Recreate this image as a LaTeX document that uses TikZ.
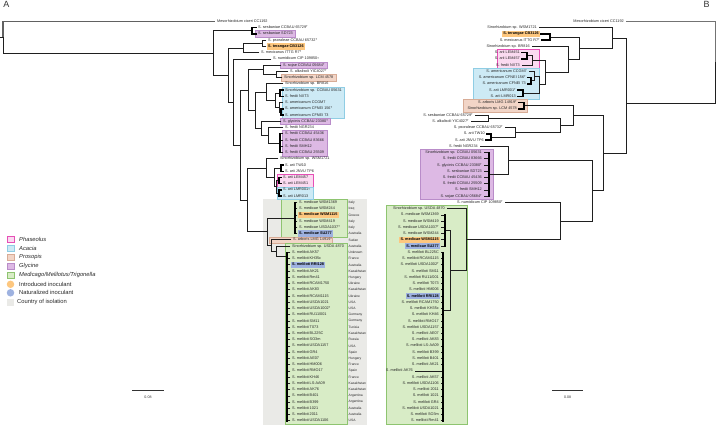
\documentclass[tikz,border=0pt]{standalone}
\usepackage{fontspec}
\setmainfont{Liberation Sans}
\usetikzlibrary{backgrounds,fit}
\definecolor{glyF}{HTML}{DDB9E4}\definecolor{glyD}{HTML}{B98CC9}
\definecolor{acaF}{HTML}{CDEAF5}\definecolor{acaD}{HTML}{8FCDE4}
\definecolor{proF}{HTML}{F2D5C7}\definecolor{proD}{HTML}{D8AC96}
\definecolor{phaF}{HTML}{FADAF0}\definecolor{phaD}{HTML}{E64FB6}
\definecolor{medF}{HTML}{D8ECC6}\definecolor{medD}{HTML}{8EC470}
\definecolor{intF}{HTML}{FDC77F}
\definecolor{natF}{HTML}{9EB2E0}
\definecolor{ctyF}{HTML}{EAEAE7}
\newcommand\lfont{\fontsize{3.8}{4.2}\selectfont}
\newcommand\cfont{\fontsize{3.3}{4}\selectfont}
\newcommand\gfont{\fontsize{5.8}{6.5}\selectfont}
\newcommand\Ty{\raisebox{0.9pt}{\fontsize{2.6}{3}\selectfont T}}
\newcommand\LA[5][]{\coordinate (#2) at (#3,{21.5+6.24*#4});\node[lA,#1] (#2-t) at ([xshift=2pt]#2) {#5};}
\newcommand\LB[5][]{\coordinate (#2) at (#3,{21.5+6.24*#4});\node[lB,#1] (#2-t) at ([xshift=-2pt]#2) {#5};}
\newcommand\CA[2]{\node[cty] (c#1) at (348.5,{21.5+6.24*#1}) {#2};}
\newcommand\RowBox[5]{\path[#1] (#2,{21.5+6.24*#4-3.1}) rectangle (#3,{21.5+6.24*#5+3.1});}
\begin{document}
\begin{tikzpicture}[x=1pt,y=-1pt,
 br/.style={line width=0.8pt, draw=black!88, line cap=rect},
 cmb/.style={line width=1.5pt, draw=black, line cap=rect},
 ogA/.style={line width=1.5pt, draw=black!62},
 ogB/.style={line width=0.8pt, draw=black!55},
 lA/.style={anchor=west, inner sep=0pt, font=\lfont, text=black!85, text height=2.8pt, text depth=0.8pt},
 lB/.style={anchor=east, inner sep=0pt, font=\lfont, text=black!85, text height=2.8pt, text depth=0.8pt},
 hb/.style={font=\lfont\bfseries, text=black},
 cty/.style={anchor=west, inner sep=0pt, font=\cfont, text=black!85},
 bfit/.style={inner xsep=2.5pt, inner ysep=1.3pt},
 glyB/.style={fill=glyF, draw=glyD, line width=0.5pt, bfit},
 acaB/.style={fill=acaF, draw=acaD, line width=0.5pt, bfit},
 proB/.style={fill=proF, draw=proD, line width=0.5pt, bfit},
 phaB/.style={fill=phaF, draw=phaD, line width=0.6pt, bfit},
 medB/.style={fill=medF, draw=medD, line width=0.5pt},
 intH/.style={fill=intF, inner xsep=1.2pt, inner ysep=1.3pt},
 natH/.style={fill=natF, inner xsep=1.2pt, inner ysep=1.3pt},
 sq/.style={minimum width=7pt, minimum height=6.5pt, inner sep=0pt, line width=0.6pt},
 dot/.style={circle, minimum size=7.5pt, inner sep=0pt},
 lgt/.style={anchor=west, inner sep=0pt, font=\gfont, text=black!85},
 sb/.style={line width=1.2pt, draw=black!80},
 sbt/.style={font=\fontsize{3.6}{4}\selectfont, text=black!80, inner sep=0pt}]
\useasboundingbox (0,0) rectangle (716,425);

% ================= PANEL A : leaves =================
\LA{aMeso}{215}{0}{Mesorhizobium ciceri CC1192}
\LA{a1}{256}{1}{S. sesbaniae CCBAU 65729\Ty}
\LA{a2}{256}{2}{S. sesbaniae SD723}
\LA{a3}{266}{3}{S. psoraleae CCBAU 65732\Ty}
\LA[hb]{a4}{266}{4}{S. terangae CB3126}
\LA{a5}{259}{5}{S. mexicanus ITTG R7\Ty}
\LA{a6}{271}{6}{S. numidicum CIP 109850\Ty}
\LA{a7}{281}{7}{S. sojae CCBAU 05684\Ty}
\LA{a8}{288}{8}{S. alkalisoli YIC4027\Ty}
\LA{a9}{282}{9}{Sinorhizobium sp. LCM 4578}
\LA{a10}{283}{10}{Sinorhizobium sp. BR816}
\LA{a11}{283}{11}{Sinorhizobium sp. CCBAU 05631}
\LA{a12}{283}{12}{S. fredii NXT3}
\LA{a13}{283}{13}{S. americanum CCGM7}
\LA{a14}{283}{14}{S. americanum CFNEI 156\Ty}
\LA{a15}{283}{15}{S. americanum CFNEI 73}
\LA{a16}{281}{16}{S. glycinis CCBAU 23380\Ty}
\LA{a17}{283}{17}{S. fredii NGR234}
\LA{a18}{283}{18}{S. fredii CCBAU 45436}
\LA{a19}{283}{19}{S. fredii CCBAU 83666}
\LA{a20}{283}{20}{S. fredii SMH12}
\LA{a21}{283}{21}{S. fredii CCBAU 25509}
\LA{a22}{278}{22}{Sinorhizobium sp. WSM1721}
\LA{a23}{283}{23}{S. arii TW10}
\LA{a24}{283}{24}{S. arii JNVU TP6}
\LA{a25}{281}{25}{S. arii LEM457}
\LA{a26}{281}{26}{S. arii LEM451}
\LA{a27}{281}{27}{S. arii LMR001\Ty}
\LA{a28}{281}{28}{S. arii LMR013}
\LA{a29}{297}{29}{S. medicae WSM1369}
\LA{a30}{297}{30}{S. medicae WSM244}
\LA[hb]{a31}{297}{31}{S. medicae WSM1115}
\LA{a32}{297}{32}{S. medicae WSM419}
\LA{a33}{297}{33}{S. medicae USDA1037\Ty}
\LA[hb]{a34}{297}{34}{S. medicae SU277}
\LA{a35}{291}{35}{S. arboris LMG 14919\Ty}
\LA{a36}{290}{36}{Sinorhizobium sp. USDA 4870}
\LA{a37}{290}{37}{S. meliloti AK57}
\LA{a38}{290}{38}{S. meliloti KH35c}
\LA[hb]{a39}{290}{39}{S. meliloti RRI128}
\LA{a40}{290}{40}{S. meliloti AK21}
\LA{a41}{290}{41}{S. meliloti Rm41}
\LA{a42}{290}{42}{S. meliloti RCAM1750}
\LA{a43}{290}{43}{S. meliloti AK83}
\LA{a44}{290}{44}{S. meliloti RCAM1115}
\LA{a45}{290}{45}{S. meliloti USDA1021}
\LA{a46}{290}{46}{S. meliloti USDA1002\Ty}
\LA{a47}{290}{47}{S. meliloti RU11/001}
\LA{a48}{290}{48}{S. meliloti SM11}
\LA{a49}{290}{49}{S. meliloti T073}
\LA{a50}{290}{50}{S. meliloti BL225C}
\LA{a51}{290}{51}{S. meliloti SO3m}
\LA{a52}{290}{52}{S. meliloti USDA1157}
\LA{a53}{290}{53}{S. meliloti GR4}
\LA{a54}{290}{54}{S. meliloti AE07}
\LA{a55}{290}{55}{S. meliloti HM006}
\LA{a56}{290}{56}{S. meliloti RMO17}
\LA{a57}{290}{57}{S. meliloti KH46}
\LA{a58}{290}{58}{S. meliloti LS-AA09}
\LA{a59}{290}{59}{S. meliloti AK76}
\LA{a60}{290}{60}{S. meliloti B401}
\LA{a61}{290}{61}{S. meliloti B399}
\LA{a62}{290}{62}{S. meliloti 1021}
\LA{a63}{290}{63}{S. meliloti 2011}
\LA{a64}{290}{64}{S. meliloti USDA1106}
% countries
\CA{29}{Italy}\CA{30}{Iraq}\CA{31}{Greece}\CA{32}{Italy}\CA{33}{Italy}\CA{34}{Australia}
\CA{35}{Sudan}\CA{36}{Australia}\CA{37}{Unknown}\CA{38}{France}\CA{39}{Australia}
\CA{40}{Kazakhstan}\CA{41}{Hungary}\CA{42}{Ukraine}\CA{43}{Kazakhstan}\CA{44}{Ukraine}
\CA{45}{USA}\CA{46}{USA}\CA{47}{Germany}\CA{48}{Germany}\CA{49}{Tunisia}
\CA{50}{Kazakhstan}\CA{51}{Russia}\CA{52}{USA}\CA{53}{Spain}\CA{54}{Hungary}
\CA{55}{France}\CA{56}{Spain}\CA{57}{France}\CA{58}{Kazakhstan}\CA{59}{Kazakhstan}
\CA{60}{Argentina}\CA{61}{Argentina}\CA{62}{Australia}\CA{63}{Australia}\CA{64}{USA}

% ================= PANEL B : leaves =================
\LB{b0}{626}{0}{Mesorhizobium ciceri CC1192}
\LB{b1}{539}{1}{Sinorhizobium sp. WSM1721}
\LB[hb]{b2}{541}{2}{S. terangae CB3126}
\LB{b3}{542}{3}{S. mexicanus ITTG R7\Ty}
\LB{b4}{532}{4}{Sinorhizobium sp. BR816}
\LB{b5}{522}{5}{S. arii LEM451}
\LB{b6}{522}{6}{S. arii LEM457}
\LB{b7}{522}{7}{S. fredii NXT3}
\LB{b8}{529}{8}{S. americanum CCGM7}
\LB{b9}{528}{9}{S. americanum CFNEI 156\Ty}
\LB{b10}{528}{10}{S. americanum CFNEI 73}
\LB{b11}{518}{11}{S. arii LMR001\Ty}
\LB{b12}{518}{12}{S. arii LMR013}
\LB{b13}{519}{13}{S. arboris LMG 14919\Ty}
\LB{b14}{519}{14}{Sinorhizobium sp. LCM 4578}
\LB{b15}{475}{15}{S. sesbaniae CCBAU 65729\Ty}
\LB{b16}{471}{16}{S. alkalisoli YIC4027\Ty}
\LB{b17}{505}{17}{S. psoraleae CCBAU 65732\Ty}
\LB{b18}{487}{18}{S. arii TW10}
\LB{b19}{486}{19}{S. arii JNVU TP6}
\LB{b20}{480}{20}{S. fredii NGR234}
\LB{b21}{484}{21}{Sinorhizobium sp. CCBAU 05631}
\LB{b22}{484}{22}{S. fredii CCBAU 83666}
\LB{b23}{484}{23}{S. glycinis CCBAU 23380\Ty}
\LB{b24}{484}{24}{S. sesbaniae SD723}
\LB{b25}{484}{25}{S. fredii CCBAU 45436}
\LB{b26}{484}{26}{S. fredii CCBAU 25509}
\LB{b27}{484}{27}{S. fredii SMH12}
\LB{b28}{484}{28}{S. sojae CCBAU 05684\Ty}
\LB{b29}{505}{29}{S. numidicum CIP 109850\Ty}
\LB{b30}{447}{30}{Sinorhizobium sp. USDA 4870}
\LB{b31}{441}{31}{S. medicae WSM1369}
\LB{b32}{441}{32}{S. medicae WSM419}
\LB{b33}{441}{33}{S. medicae USDA1037\Ty}
\LB{b34}{441}{34}{S. medicae WSM244}
\LB[hb]{b35}{441}{35}{S. medicae WSM1115}
\LB[hb]{b36}{441}{36}{S. medicae SU277}
\LB{b37}{441}{37}{S. meliloti BL225C}
\LB{b38}{441}{38}{S. meliloti RCAM1115}
\LB{b39}{441}{39}{S. meliloti USDA1002\Ty}
\LB{b40}{441}{40}{S. meliloti SM11}
\LB{b41}{441}{41}{S. meliloti RU11/001}
\LB{b42}{441}{42}{S. meliloti T073}
\LB{b43}{441}{43}{S. meliloti HM006}
\LB[hb]{b44}{441}{44}{S. meliloti RRI128}
\LB{b45}{441}{45}{S. meliloti RCAM1750}
\LB{b46}{441}{46}{S. meliloti KH35c}
\LB{b47}{441}{47}{S. meliloti KH46}
\LB{b48}{441}{48}{S. meliloti RMO17}
\LB{b49}{441}{49}{S. meliloti USDA1157}
\LB{b50}{441}{50}{S. meliloti AE07}
\LB{b51}{441}{51}{S. meliloti AK83}
\LB{b52}{441}{52}{S. meliloti LS-AA09}
\LB{b53}{441}{53}{S. meliloti B399}
\LB{b54}{441}{54}{S. meliloti B401}
\LB{b55}{441}{55}{S. meliloti AK21}
\LB{b56}{415}{56}{S. meliloti AK76}
\LB{b57}{441}{57}{S. meliloti AK57}
\LB{b58}{441}{58}{S. meliloti USDA1106}
\LB{b59}{441}{59}{S. meliloti 2011}
\LB{b60}{441}{60}{S. meliloti 1021}
\LB{b61}{441}{61}{S. meliloti GR4}
\LB{b62}{441}{62}{S. meliloti USDA1021}
\LB{b63}{441}{63}{S. meliloti SO3m}
\LB{b64}{441}{64}{S. meliloti Rm41}

% ================= background boxes =================
\begin{scope}[on background layer]
 % panel A
 \path[fill=ctyF] (263,199.3) rectangle (367,424.6);
 \RowBox{medB}{281}{347}{29}{34}
 \RowBox{proB}{269}{332}{35}{35}
 \path[medB] (285.5,{21.5+6.24*36-3.1}) rectangle (347,424.6);
 \node[glyB, fit=(a2-t)] (bx1) {};
 \node[intH, fit=(a4-t)] (bx2) {};
 \node[glyB, fit=(a7-t)] (bx3) {};
 \node[proB, fit=(a9-t)] (bx4) {};
 \node[glyB, fit=(a11-t)(a12-t)] (bx5) {};
 \node[acaB, fit=(a13-t)(a14-t)(a15-t)(a11-t)] (bx6) {};
 \node[glyB, fit=(a16-t)] (bx7) {};
 \node[glyB, fit=(a18-t)(a19-t)(a20-t)(a21-t)] (bx8) {};
 \RowBox{phaB}{277.5}{313}{25}{26}
 \RowBox{acaB}{277.5}{313}{27}{28}
 \node[intH, fit=(a31-t)] (bx11) {};
 \node[natH, fit=(a34-t)] (bx12) {};
 \node[natH, fit=(a39-t)] (bx13) {};
 % panel B
 \node[intH, fit=(b2-t)] (bx14) {};
 \RowBox{phaB}{497}{539}{5}{7}
 \RowBox{acaB}{473}{539}{8}{12}
 \RowBox{proB}{463}{527}{13}{14}
 \RowBox{glyB}{420}{493}{21}{28}
 \path[medB] (386,{21.5+6.24*30-3.1}) rectangle (467,424.6);
 \node[intH, fit=(b35-t)] (bx15) {};
 \node[natH, fit=(b36-t)] (bx16) {};
 \node[natH, fit=(b44-t)] (bx17) {};
\end{scope}

% ================= PANEL A : tree =================
\coordinate (R0) at (0,37.2);
\coordinate (R) at (3,37.2);
\coordinate (A1) at (213,52.93);
\coordinate (SP) at (252,30.86);
\coordinate (A2) at (228,75.0);
\coordinate (A3) at (243,48.02);
\coordinate (PT) at (262,43.34);
\coordinate (A4) at (233,101.97);
\coordinate (A5) at (240,145.0);
\coordinate (U) at (248,90.04);
\coordinate (S1) at (263,69.86);
\coordinate (AL2) at (276,74.54);
\coordinate (S2) at (255,110.23);
\coordinate (T1) at (266,92.09);
\coordinate (T1a) at (275,100.28);
\coordinate (T1b) at (280,93.26);
\coordinate (AM) at (279,107.30);
\coordinate (AMp) at (281,111.98);
\coordinate (T2) at (261,128.36);
\coordinate (T2a) at (268,135.38);
\coordinate (FR) at (280,143.18);
\coordinate (A6) at (247,199.96);
\coordinate (AR) at (266,168.14);
\coordinate (AR2) at (274,177.5);
\coordinate (TJ) at (281,168.14);
\coordinate (LL) at (276,186.86);
\coordinate (LEMp) at (279,180.62);
\coordinate (LMRp) at (279,193.10);
\coordinate (MED) at (267,231.78);
\coordinate (MEDI) at (295,218.06);
\coordinate (MEL) at (271,245.49);
\coordinate (MEL2) at (276,251.07);
\coordinate (MELC) at (287,256);

\draw[ogA] (R) |- (aMeso);
\draw[br] (R0) -- (R);
\draw[br] (R) |- (A1);
\draw[br] (A1) |- (SP); \draw[br] (A1) |- (A2);
\draw[cmb] (SP) |- (a1); \draw[cmb] (SP) |- (a2);
\draw[br] (A2) |- (A3); \draw[br] (A2) |- (A4);
\draw[br] (A3) |- (PT); \draw[br] (A3) |- (a5);
\draw[br] (PT) |- (a3); \draw[br] (PT) |- (a4);
\draw[br] (A4) |- (a6); \draw[br] (A4) |- (A5);
\draw[br] (A5) |- (U); \draw[br] (A5) |- (A6);
\draw[br] (U) |- (S1); \draw[br] (U) |- (S2);
\draw[br] (S1) |- (a7); \draw[br] (S1) |- (AL2);
\draw[br] (AL2) |- (a8); \draw[br] (AL2) |- (a9);
\draw[br] (S2) |- (T1); \draw[br] (S2) |- (T2);
\draw[br] (T1) |- (a10); \draw[br] (T1) |- (T1a);
\draw[br] (T1a) |- (T1b); \draw[br] (T1a) |- (AM);
\draw[cmb] (T1b) |- (a11); \draw[cmb] (T1b) |- (a12);
\draw[br] (AM) |- (a13); \draw[br] (AM) |- (AMp);
\draw[cmb] (AMp) |- (a14); \draw[cmb] (AMp) |- (a15);
\draw[br] (T2) |- (a16); \draw[br] (T2) |- (T2a);
\draw[br] (T2a) |- (a17); \draw[br] (T2a) |- (FR);
\foreach \n in {18,...,21} \draw[br] (FR) |- (a\n);
\draw[cmb] (FR |- a18) -- (FR |- a21);
\draw[br] (A6) |- (AR); \draw[br] (A6) |- (MED);
\draw[br] (AR) |- (a22); \draw[br] (AR) |- (AR2);
\draw[br] (AR2) |- (TJ); \draw[br] (AR2) |- (LL);
\draw[cmb] (TJ) |- (a23); \draw[cmb] (TJ) |- (a24);
\draw[br] (LL) |- (LEMp); \draw[br] (LL) |- (LMRp);
\draw[cmb] (LEMp) |- (a25); \draw[cmb] (LEMp) |- (a26);
\draw[cmb] (LMRp) |- (a27); \draw[cmb] (LMRp) |- (a28);
\draw[br] (MED) |- (MEDI); \draw[br] (MED) |- (MEL);
\foreach \n in {29,...,34} \draw[br] (MEDI) |- (a\n);
\draw[cmb] (MEDI |- a29) -- (MEDI |- a34);
\draw[br] (MEL) |- (a35); \draw[br] (MEL) |- (MEL2);
\draw[br] (MEL2) |- (a36); \draw[br] (MEL2) |- (MELC);
\foreach \n in {37,...,64} \draw[br] (MELC) |- (a\n);
\draw[cmb] (MELC |- a37) -- (MELC |- a64);

% ================= PANEL B : tree =================
\coordinate (RB0) at (716,62.25);
\coordinate (RB) at (715,62.25);
\coordinate (N0) at (626,103);
\coordinate (N1) at (612,38.03);
\coordinate (N1b) at (579,48.31);
\coordinate (TM) at (550,37.10);
\coordinate (C) at (568,59.53);
\coordinate (D) at (545,72.59);
\coordinate (E) at (532,60.50);
\coordinate (LEMpB) at (527,55.82);
\coordinate (F) at (539,84.68);
\coordinate (G) at (534,76.10);
\coordinate (Gp) at (531,80.78);
\coordinate (H) at (523,93.26);
\coordinate (N2) at (603,153.08);
\coordinate (Q) at (573,115.49);
\coordinate (ALp) at (524,105.74);
\coordinate (Q2) at (560,125.24);
\coordinate (SAp) at (488,118.22);
\coordinate (Rn) at (515,132.26);
\coordinate (TJB) at (491,136.94);
\coordinate (N3) at (592,190.67);
\coordinate (PP) at (508,160.34);
\coordinate (PUR) at (489,174.38);
\coordinate (N4) at (560,221);
\coordinate (GRN) at (466,239.5);
\coordinate (GR2) at (450,270.27);
\coordinate (MEDB) at (445,230.54);
\coordinate (MELB) at (443,310);

\draw[ogB] (RB) |- (b0);
\draw[br] (RB0) -- (RB);
\draw[br] (RB) |- (N0);
\draw[br] (N0) |- (N1); \draw[br] (N0) |- (N2);
\draw[br] (N1) |- (b1); \draw[br] (N1) |- (N1b);
\draw[br] (N1b) |- (TM); \draw[br] (N1b) |- (C);
\draw[cmb] (TM) |- (b2); \draw[cmb] (TM) |- (b3);
\draw[br] (C) |- (b4); \draw[br] (C) |- (D);
\draw[br] (D) |- (E); \draw[br] (D) |- (F);
\draw[br] (E) |- (LEMpB); \draw[br] (E) |- (b7);
\draw[cmb] (LEMpB) |- (b5); \draw[cmb] (LEMpB) |- (b6);
\draw[br] (F) |- (G); \draw[br] (F) |- (H);
\draw[br] (G) |- (b8); \draw[br] (G) |- (Gp);
\draw[cmb] (Gp) |- (b9); \draw[cmb] (Gp) |- (b10);
\draw[cmb] (H) |- (b11); \draw[cmb] (H) |- (b12);
\draw[br] (N2) |- (Q); \draw[br] (N2) |- (N3);
\draw[br] (Q) |- (ALp); \draw[br] (Q) |- (Q2);
\draw[cmb] (ALp) |- (b13); \draw[cmb] (ALp) |- (b14);
\draw[br] (Q2) |- (SAp); \draw[br] (Q2) |- (Rn);
\draw[br] (SAp) |- (b15); \draw[br] (SAp) |- (b16);
\draw[br] (Rn) |- (b17); \draw[br] (Rn) |- (TJB);
\draw[cmb] (TJB) |- (b18); \draw[cmb] (TJB) |- (b19);
\draw[br] (N3) |- (PP); \draw[br] (N3) |- (N4);
\draw[br] (PP) |- (b20); \draw[br] (PP) |- (PUR);
\foreach \n in {21,...,28} \draw[br] (PUR) |- (b\n);
\draw[cmb] (PUR |- b21) -- (PUR |- b28);
\draw[br] (N4) |- (b29); \draw[br] (N4) |- (GRN);
\draw[br] (GRN) |- (b30); \draw[br] (GRN) |- (GR2);
\draw[br] (GR2) |- (MEDB); \draw[br] (GR2) |- (MELB);
\foreach \n in {31,...,36} \draw[br] (MEDB) |- (b\n);
\draw[cmb] (MEDB |- b31) -- (MEDB |- b36);
\foreach \n in {37,...,64} \draw[br] (MELB) |- (b\n);
\draw[cmb] (MELB |- b37) -- (MELB |- b64);

% ================= panel letters =================
\node[font=\fontsize{9}{10}\selectfont, text=black!80, inner sep=0pt] (labA) at (6.5,4.5) {A};
\node[font=\fontsize{9}{10}\selectfont, text=black!80, inner sep=0pt] (labB) at (706.5,4.5) {B};

% ================= legend =================
\node[sq, fill=phaF, draw=phaD, line width=0.9pt] (lg1) at (10.5,239.3) {};
\node[lgt] (lg1t) at (19,239.3) {\itshape Phaseolus};
\node[sq, fill=acaF, draw=acaD] (lg2) at (10.5,248.3) {};
\node[lgt] (lg2t) at (19,248.3) {\itshape Acacia};
\node[sq, fill=proF, draw=proD] (lg3) at (10.5,257.3) {};
\node[lgt] (lg3t) at (19,257.3) {\itshape Prosopis};
\node[sq, fill=glyF, draw=glyD] (lg4) at (10.5,266.3) {};
\node[lgt] (lg4t) at (19,266.3) {\itshape Glycine};
\node[sq, fill=medF, draw=medD] (lg5) at (10.5,275.5) {};
\node[lgt] (lg5t) at (19,275.5) {\itshape Medicago/Melilotus/Trigonella};
\node[dot, fill=intF] (lg6) at (10.5,284.3) {};
\node[lgt] (lg6t) at (19,284.3) {Introduced inoculant};
\node[dot, fill=natF] (lg7) at (10.5,292.8) {};
\node[lgt] (lg7t) at (19,292.8) {Naturalized inoculant};
\node[sq, fill=ctyF] (lg8) at (10.5,302.3) {};
\node[lgt] (lg8t) at (17,302.3) {Country of isolation};

% ================= scale bars =================
\coordinate (sA1) at (132,390.8); \coordinate (sA2) at (164,390.8);
\draw[sb] (sA1) -- (sA2);
\node[sbt] (sAt) at (148,396.8) {0.08};
\coordinate (sB1) at (552,390.8); \coordinate (sB2) at (583,390.8);
\draw[sb] (sB1) -- (sB2);
\node[sbt] (sBt) at (567.5,396.8) {0.08};
\end{tikzpicture}
\end{document}
